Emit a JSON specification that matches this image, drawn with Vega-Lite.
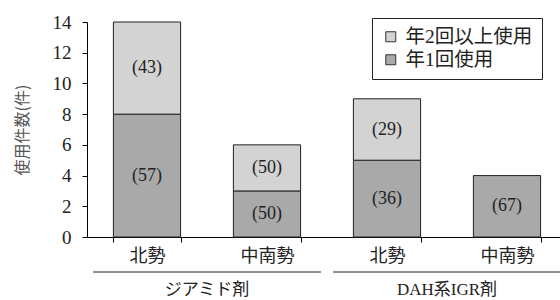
{
  "$schema": "https://vega.github.io/schema/vega-lite/v6.json",
  "autosize": {"type": "none"},
  "padding": {"left": 87, "top": 22, "right": 0, "bottom": 63},
  "width": 480,
  "height": 215,
  "config": {
    "view": {"stroke": null},
    "font": "Liberation Serif, Noto Sans CJK JP",
    "axis": {"domainColor": "#000", "tickColor": "#000", "labelColor": "#222", "grid": false},
    "axisY": {
      "values": [0, 2, 4, 6, 8, 10, 12, 14], "tickSize": 5, "labelFontSize": 19,
      "labelFont": "Liberation Serif",
      "labelOverlap": false, "labelFlush": false, "labelPadding": 11,
      "titleFont": "Noto Sans CJK JP", "titleFontWeight": "normal", "titleFontSize": 16,
      "titleColor": "#555", "titlePadding": 22
    }
  },
  "datasets": {
    "bars": [
      {"cat": "ジアミド剤|北勢", "group": "ジアミド剤", "type": "年1回使用", "value": 8, "label": "(57)"},
      {"cat": "ジアミド剤|北勢", "group": "ジアミド剤", "type": "年2回以上使用", "value": 6, "label": "(43)"},
      {"cat": "ジアミド剤|中南勢", "group": "ジアミド剤", "type": "年1回使用", "value": 3, "label": "(50)"},
      {"cat": "ジアミド剤|中南勢", "group": "ジアミド剤", "type": "年2回以上使用", "value": 3, "label": "(50)"},
      {"cat": "DAH系IGR剤|北勢", "group": "DAH系IGR剤", "type": "年1回使用", "value": 5, "label": "(36)"},
      {"cat": "DAH系IGR剤|北勢", "group": "DAH系IGR剤", "type": "年2回以上使用", "value": 4, "label": "(29)"},
      {"cat": "DAH系IGR剤|中南勢", "group": "DAH系IGR剤", "type": "年1回使用", "value": 4, "label": "(67)"}
    ],
    "groups": [
      {"group": "ジアミド剤", "lineY": -2.28, "textY": -3.45},
      {"group": "DAH系IGR剤", "lineY": -2.28, "textY": -3.45}
    ]
  },
  "layer": [
    {
      "data": {"name": "bars"},
      "transform": [
        {"stack": "value", "groupby": ["cat"], "sort": [{"field": "type", "order": "ascending"}], "as": ["v0", "v1"]},
        {"calculate": "(datum.v0 + datum.v1) / 2", "as": "mid"}
      ],
      "encoding": {
        "x": {
          "field": "cat", "type": "nominal", "sort": null,
          "scale": {"paddingInner": 0.44, "paddingOuter": 0.22},
          "axis": {
            "title": null, "labelAngle": 0, "tickBand": "extent", "tickSize": 5,
            "labelExpr": "split(datum.label, '|')[1]", "labelFontSize": 18, "labelPadding": 5,
            "labelColor": "#222"
          }
        }
      },
      "layer": [
        {
          "mark": {"type": "bar", "stroke": "#222", "strokeWidth": 1},
          "encoding": {
            "y": {
              "field": "v1", "type": "quantitative",
              "scale": {"domain": [0, 14], "nice": false},
              "axis": {"title": "使用件数(件)", "labelFont": "Liberation Serif", "labelFontSize": 19}
            },
            "y2": {"field": "v0"},
            "fill": {
              "field": "type", "type": "nominal",
              "scale": {"domain": ["年2回以上使用", "年1回使用"], "range": ["#d3d3d3", "#a9a9a9"]},
              "legend": {
                "title": null, "orient": "none", "legendX": 285, "legendY": -4,
                "strokeColor": "#222", "padding": 9, "labelFontSize": 19.5, "labelColor": "#222",
                "symbolType": "square", "symbolSize": 100, "symbolStrokeColor": "#333",
                "symbolStrokeWidth": 1, "rowPadding": 2, "labelOffset": 5
              }
            }
          }
        },
        {
          "mark": {"type": "text", "fontSize": 18, "color": "#222", "baseline": "middle"},
          "encoding": {
            "y": {"field": "mid", "type": "quantitative", "axis": {"title": "使用件数(件)", "labelFont": "Liberation Serif"}},
            "text": {"field": "label"}
          }
        }
      ]
    },
    {
      "data": {"name": "groups"},
      "encoding": {
        "x": {
          "field": "group", "type": "nominal", "sort": null,
          "scale": {"paddingInner": 0.05, "paddingOuter": 0.025},
          "axis": null
        }
      },
      "layer": [
        {
          "mark": {"type": "rule", "color": "#222", "strokeWidth": 1},
          "encoding": {
            "x": {"field": "group", "type": "nominal", "sort": null, "bandPosition": 0,
              "scale": {"paddingInner": 0.05, "paddingOuter": 0.025}, "axis": null},
            "x2": {"field": "group", "bandPosition": 1},
            "y": {"field": "lineY", "type": "quantitative", "axis": {"title": "使用件数(件)", "labelFont": "Liberation Serif"}}
          }
        },
        {
          "mark": {"type": "text", "fontSize": 17, "color": "#222", "baseline": "middle"},
          "encoding": {
            "y": {"field": "textY", "type": "quantitative", "axis": {"title": "使用件数(件)", "labelFont": "Liberation Serif"}},
            "text": {"field": "group"}
          }
        }
      ]
    }
  ],
  "resolve": {"scale": {"x": "independent"}}
}
